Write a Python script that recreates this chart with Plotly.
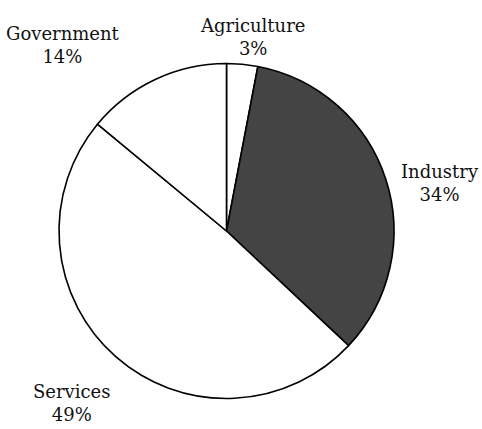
import plotly.graph_objects as go

# Sector shares (percent), listed clockwise from 12 o'clock
sectors = ["Agriculture", "Industry", "Services", "Government"]
shares = [3, 34, 49, 14]
fills = ["#ffffff", "#444444", "#ffffff", "#ffffff"]

# Label anchor points (paper coords) for each sector's caption
label_x = [252 / 482, 440 / 482, 71 / 482, 63 / 482]
label_y = [1 - 37 / 429, 1 - 183 / 429, 1 - 403 / 429, 1 - 45 / 429]

W, H = 482, 429
cx, cy, r = 226.5, 231, 167.5

SERIF = "DejaVu Serif"

fig = go.Figure(
    go.Pie(
        labels=sectors,
        values=shares,
        sort=False,
        direction="clockwise",
        rotation=0,
        textinfo="none",
        hoverinfo="label+percent",
        marker=dict(colors=fills, line=dict(color="#000000", width=1.6)),
        domain=dict(
            x=[(cx - r) / W, (cx + r) / W],
            y=[(H - cy - r) / H, (H - cy + r) / H],
        ),
        showlegend=False,
    )
)

for name, val, x, y in zip(sectors, shares, label_x, label_y):
    fig.add_annotation(
        x=x, y=y, xref="paper", yref="paper",
        text=f"{name}<br>{val}%",
        showarrow=False,
        xanchor="center", yanchor="middle",
        align="center",
        font=dict(family=SERIF, size=18, color="#111111"),
    )

fig.update_layout(
    width=W, height=H,
    margin=dict(l=0, r=0, t=0, b=0),
    paper_bgcolor="#ffffff",
    plot_bgcolor="#ffffff",
    font=dict(family=SERIF),
)

fig.write_html("out.html")
